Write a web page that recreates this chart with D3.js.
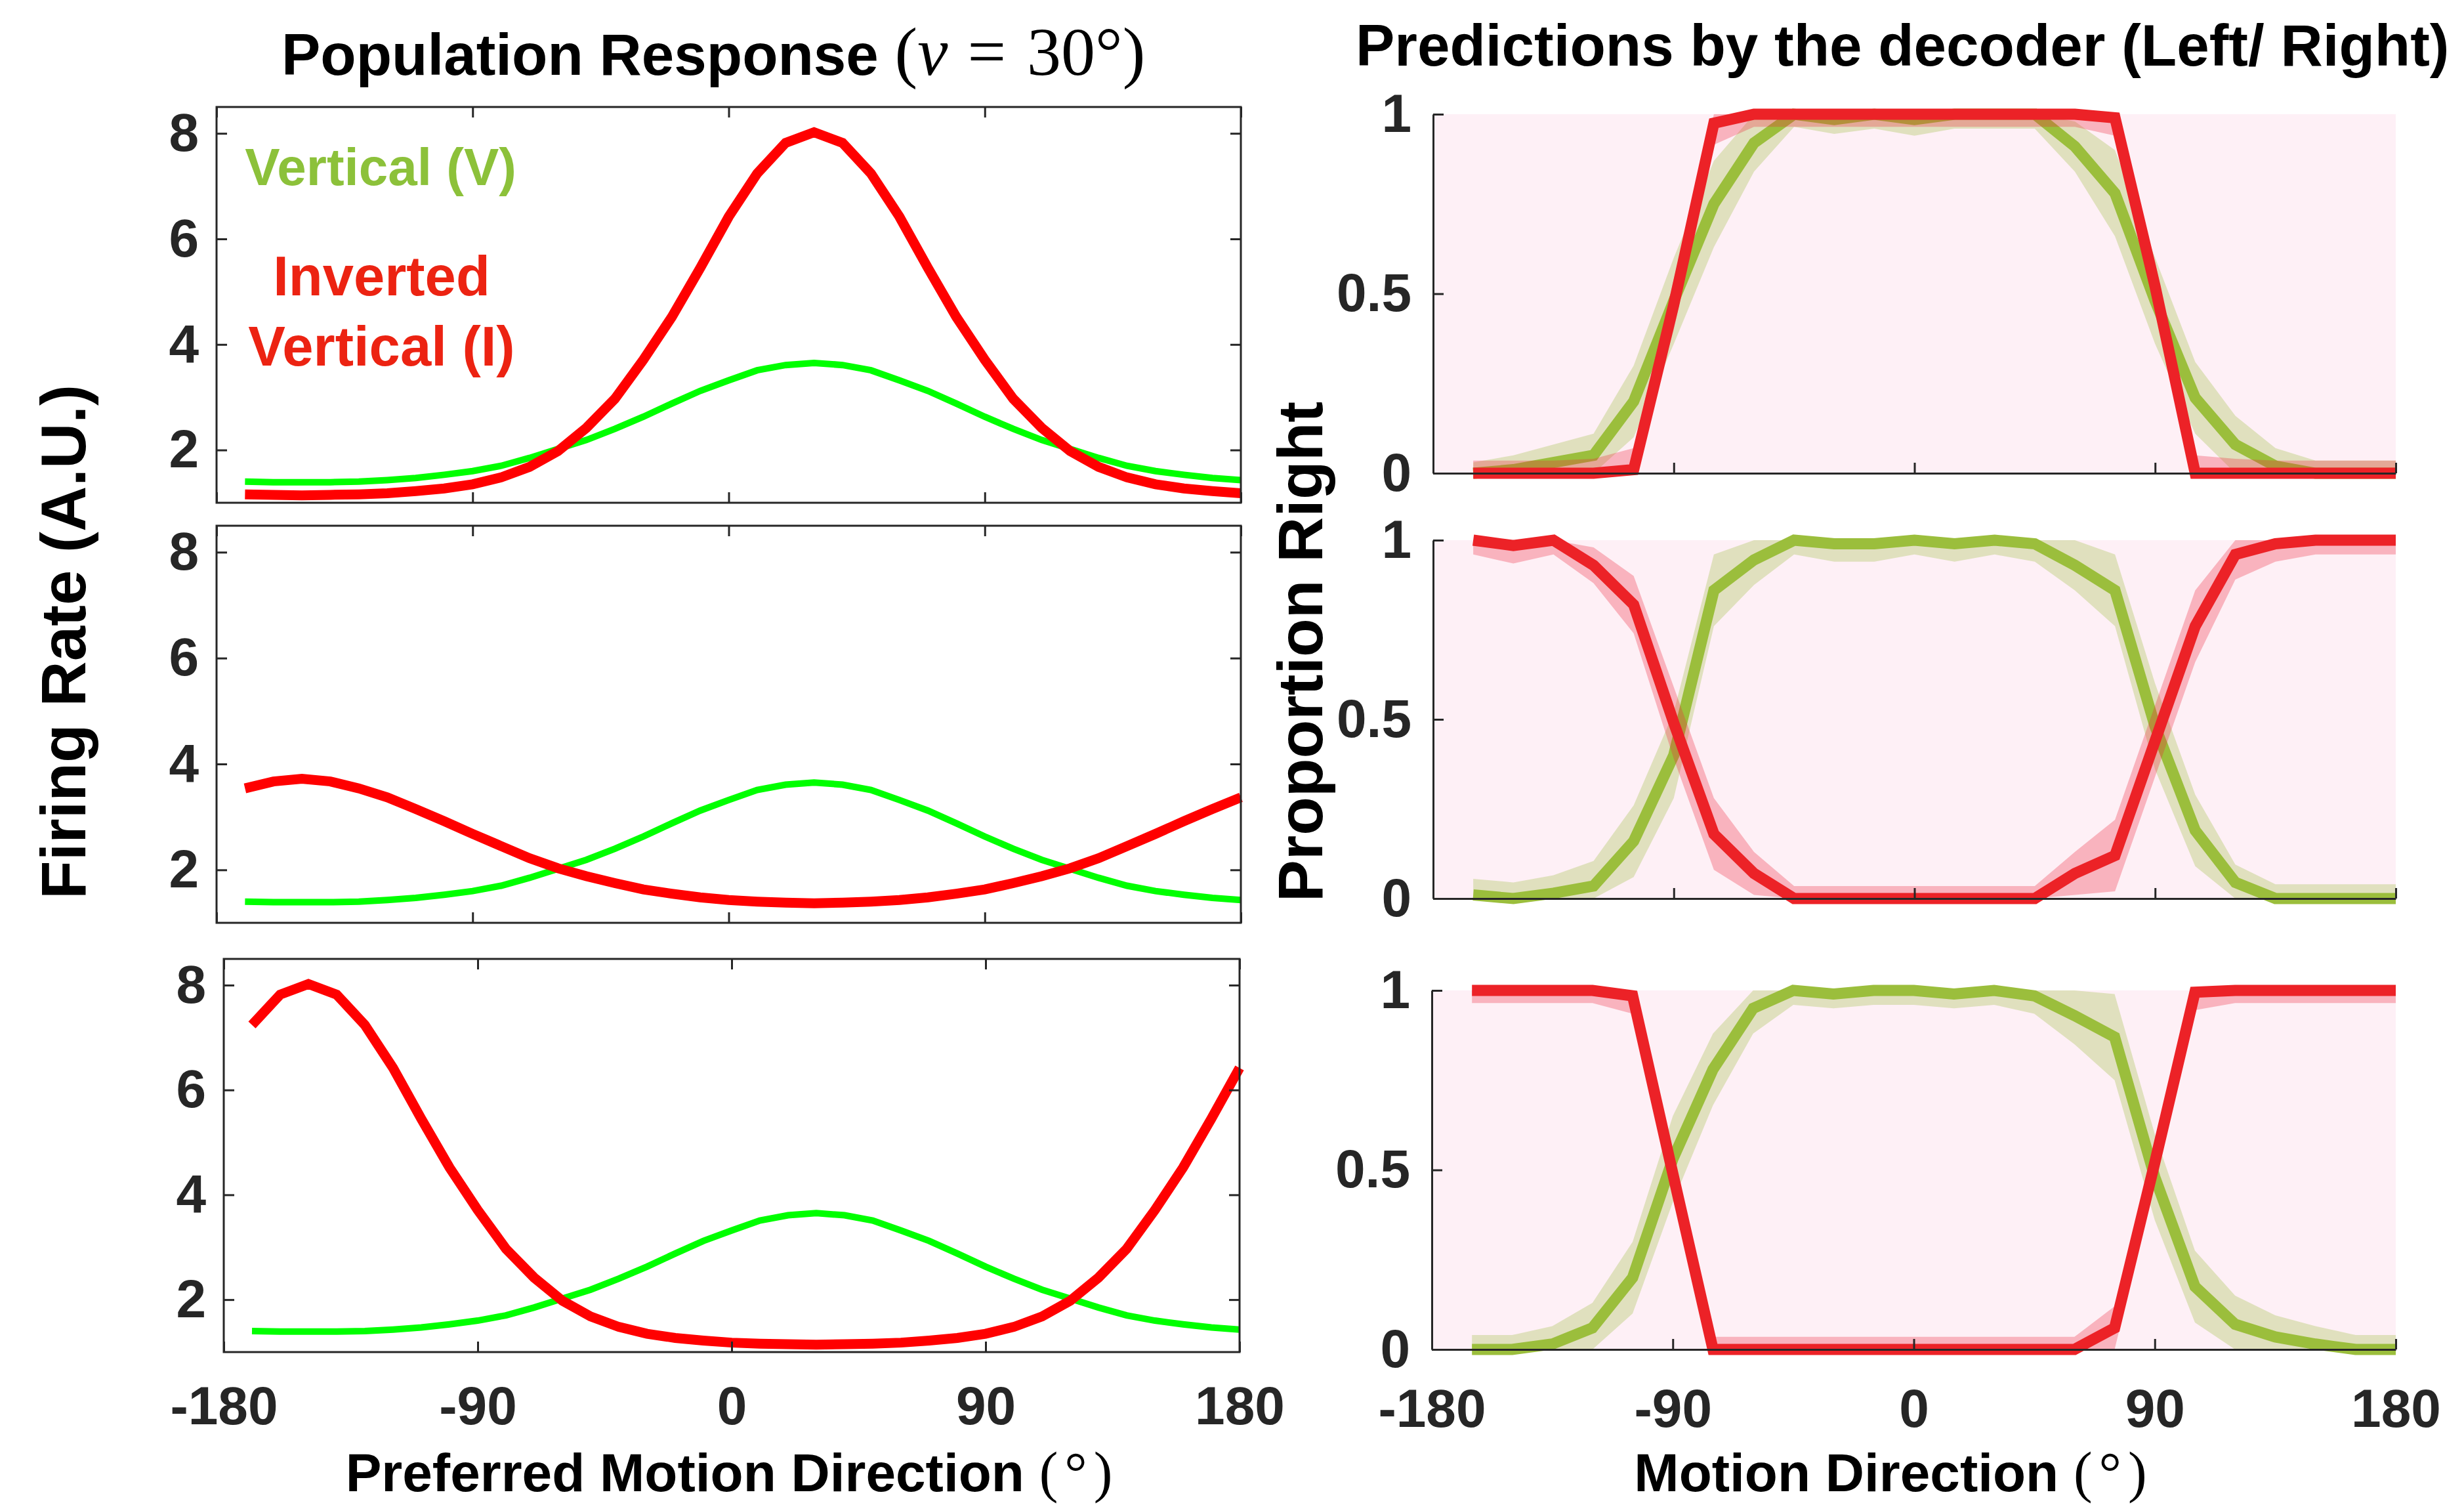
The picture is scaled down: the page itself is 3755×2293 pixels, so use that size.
<!DOCTYPE html>
<html>
<head>
<meta charset="utf-8">
<script src="https://cdn.jsdelivr.net/npm/d3@7"></script>
<style>
body { margin: 0; background: #fff; }
svg { display: block; }
</style>
</head>
<body>
<svg id="fig" width="3755" height="2293"></svg>
<script>
// preferred direction of each model neuron (deg)
var prefDir = [-170,-160,-150,-140,-130,-120,-110,-100,-90,-80,-70,-60,-50,-40,-30,-20,-10,0,10,20,30,40,50,60,70,80,90,100,110,120,130,140,150,160,170,180];

// population response to the vertical stimulus (same in every row)
var vertResp = [1.40,1.39,1.39,1.39,1.40,1.43,1.47,1.53,1.60,1.70,1.85,2.02,2.19,2.40,2.63,2.88,3.12,3.32,3.51,3.61,3.65,3.61,3.51,3.32,3.12,2.88,2.63,2.40,2.19,2.02,1.85,1.70,1.60,1.53,1.47,1.43];

// population response to the inverted vertical stimulus, one per row
var invResp1 = [1.16,1.15,1.14,1.15,1.16,1.18,1.22,1.27,1.35,1.48,1.68,1.98,2.42,2.97,3.71,4.52,5.45,6.42,7.24,7.82,8.02,7.82,7.24,6.42,5.45,4.52,3.71,2.97,2.42,1.98,1.68,1.48,1.35,1.27,1.22,1.18];
var invResp2 = [3.54,3.67,3.72,3.67,3.54,3.37,3.15,2.92,2.68,2.45,2.22,2.03,1.88,1.75,1.63,1.55,1.48,1.43,1.40,1.38,1.37,1.38,1.40,1.43,1.48,1.55,1.63,1.75,1.88,2.03,2.22,2.45,2.68,2.92,3.15,3.37];
var invResp3 = [7.24,7.82,8.02,7.82,7.24,6.42,5.45,4.52,3.71,2.97,2.42,1.98,1.68,1.48,1.35,1.27,1.22,1.18,1.16,1.15,1.14,1.15,1.16,1.18,1.22,1.27,1.35,1.48,1.68,1.98,2.42,2.97,3.71,4.52,5.45,6.42];

// motion directions tested by the decoder (deg)
var motionDir = [-165,-150,-135,-120,-105,-90,-75,-60,-45,-30,-15,0,15,30,45,60,75,90,105,120,135,150,165,180];

// proportion "right", vertical (V) and inverted (I), with band half widths
var propV1 = [0.00,0.01,0.03,0.05,0.20,0.48,0.75,0.92,1.00,0.985,1.00,0.985,1.00,1.00,1.00,0.91,0.78,0.48,0.21,0.08,0.02,0.00,0.00,0.00];
var errV1  = [0.03,0.04,0.05,0.06,0.10,0.12,0.12,0.08,0.035,0.04,0.04,0.045,0.04,0.04,0.04,0.07,0.12,0.12,0.10,0.08,0.05,0.035,0.035,0.035];
var propI1 = [0,0,0,0,0.01,0.47,0.975,1,1,1,1,1,1,1,1,1,0.99,0.52,0,0,0,0,0,0];
var errI1  = [0.035,0.035,0.035,0.04,0.06,0.07,0.06,0.035,0.035,0.035,0.035,0.035,0.035,0.035,0.035,0.035,0.05,0.07,0.05,0.04,0.035,0.035,0.035,0.035];

var propV2 = [0.01,0.00,0.015,0.035,0.16,0.40,0.86,0.945,1.00,0.99,0.99,1.00,0.99,1.00,0.99,0.93,0.86,0.48,0.19,0.045,0.00,0.00,0.00,0.00];
var errV2  = [0.045,0.045,0.05,0.07,0.10,0.12,0.10,0.07,0.04,0.05,0.05,0.04,0.05,0.04,0.05,0.07,0.10,0.12,0.10,0.05,0.04,0.04,0.04,0.04];
var propI2 = [1.00,0.985,1.00,0.93,0.82,0.49,0.18,0.07,0,0,0,0,0,0,0,0.07,0.12,0.44,0.76,0.96,0.99,1.00,1.00,1.00];
var errI2  = [0.04,0.05,0.04,0.05,0.08,0.10,0.10,0.06,0.035,0.035,0.035,0.035,0.035,0.035,0.035,0.06,0.10,0.10,0.10,0.07,0.05,0.04,0.04,0.04];

var propV3 = [0.00,0.00,0.015,0.06,0.20,0.53,0.78,0.95,1.00,0.99,1.00,1.00,0.99,1.00,0.985,0.93,0.87,0.48,0.175,0.07,0.035,0.015,0.00,0.00];
var errV3  = [0.04,0.04,0.05,0.07,0.10,0.12,0.10,0.07,0.04,0.04,0.04,0.04,0.04,0.04,0.05,0.08,0.12,0.12,0.10,0.08,0.06,0.05,0.04,0.04];
var propI3 = [1,1,1,1,0.985,0.49,0,0,0,0,0,0,0,0,0,0,0.06,0.52,0.995,1,1,1,1,1];
var errI3  = [0.035,0.035,0.035,0.035,0.05,0.06,0.035,0.035,0.035,0.035,0.035,0.035,0.035,0.035,0.035,0.035,0.06,0.06,0.05,0.035,0.035,0.035,0.035,0.035];

// ticks
var dirTicks = [-180,-90,0,90,180];
var rateTicks = [2,4,6,8];
var propTicks = [0,0.5,1];

var svg = d3.select('#fig');
var ink = '#262626';
var sans = "'Liberation Sans', Arial, Helvetica, sans-serif";
var serif = "'Liberation Serif', 'Times New Roman', serif";

svg.append('rect').attr('width', 3755).attr('height', 2293).attr('fill', '#fff');

function styleAxis(ax, size) {
  ax.selectAll('.tick line').attr('stroke', ink).attr('stroke-width', 3);
  ax.selectAll('.domain').attr('stroke', ink).attr('stroke-width', 3);
  ax.selectAll('text').attr('fill', ink).attr('font-size', size)
    .attr('font-weight', 'bold').attr('font-family', sans);
  ax.attr('font-family', null).attr('font-size', null);
}

// ---- left column: population response ----
var leftBox = [
  {x0: 330, x1: 1891, y0: 163, y1: 766, inv: invResp1, labels: false},
  {x0: 330, x1: 1891, y0: 801, y1: 1406, inv: invResp2, labels: false},
  {x0: 341, x1: 1889, y0: 1461, y1: 2060, inv: invResp3, labels: true}
];
var xTop, yTop;

leftBox.forEach(function (p, k) {
  var x = d3.scaleLinear().domain([-180, 180]).range([p.x0, p.x1]);
  var y = d3.scaleLinear().domain([1, 8.5]).range([p.y1, p.y0]);
  if (k == 0) { xTop = x; yTop = y; }
  var g = svg.append('g');
  var line = d3.line().x(function (d, i) { return x(prefDir[i]); }).y(function (d) { return y(d); });

  g.append('path').datum(vertResp).attr('d', line)
    .attr('fill', 'none').attr('stroke', '#00ff00').attr('stroke-width', 10);
  g.append('path').datum(p.inv).attr('d', line)
    .attr('fill', 'none').attr('stroke', '#ff0000').attr('stroke-width', 15);

  var axL = g.append('g').attr('transform', 'translate(' + p.x0 + ',0)')
    .call(d3.axisLeft(y).tickValues(rateTicks).tickSize(-16).tickSizeOuter(0).tickPadding(27));
  axL.select('.domain').remove();
  styleAxis(axL, 82);

  var axR = g.append('g').attr('transform', 'translate(' + p.x1 + ',0)')
    .call(d3.axisRight(y).tickValues(rateTicks).tickSize(-16).tickSizeOuter(0).tickFormat(''));
  axR.select('.domain').remove();
  styleAxis(axR, 82);

  var axT = g.append('g').attr('transform', 'translate(0,' + p.y0 + ')')
    .call(d3.axisTop(x).tickValues(dirTicks).tickSize(-16).tickSizeOuter(0).tickFormat(''));
  axT.select('.domain').remove();
  styleAxis(axT, 82);

  var axB = g.append('g').attr('transform', 'translate(0,' + p.y1 + ')')
    .call(d3.axisBottom(x).tickValues(dirTicks).tickSize(-16).tickSizeOuter(0).tickPadding(52)
      .tickFormat(p.labels ? function (d) { return String(d); } : ''));
  axB.select('.domain').remove();
  styleAxis(axB, 82);

  g.append('rect').attr('x', p.x0).attr('y', p.y0)
    .attr('width', p.x1 - p.x0).attr('height', p.y1 - p.y0)
    .attr('fill', 'none').attr('stroke', ink).attr('stroke-width', 3);
});

// legend text in the top panel, placed in data units
svg.append('text').attr('x', xTop(-170)).attr('y', yTop(7.02))
  .attr('font-family', sans).attr('font-weight', 'bold').attr('font-size', 80)
  .attr('fill', '#8cc13a').text('Vertical (V)');
svg.append('text').attr('x', xTop(-122)).attr('y', yTop(4.93)).attr('text-anchor', 'middle')
  .attr('font-family', sans).attr('font-weight', 'bold').attr('font-size', 85)
  .attr('fill', '#ec2312').text('Inverted');
svg.append('text').attr('x', xTop(-122)).attr('y', yTop(3.6)).attr('text-anchor', 'middle')
  .attr('font-family', sans).attr('font-weight', 'bold').attr('font-size', 85)
  .attr('fill', '#ec2312').text('Vertical (I)');

// ---- right column: decoder predictions ----
var rightBox = [
  {x0: 2184, x1: 3651, y0: 174, y1: 721, v: propV1, ev: errV1, r: propI1, er: errI1, labels: false},
  {x0: 2184, x1: 3651, y0: 823, y1: 1369, v: propV2, ev: errV2, r: propI2, er: errI2, labels: false},
  {x0: 2182, x1: 3651, y0: 1509, y1: 2056, v: propV3, ev: errV3, r: propI3, er: errI3, labels: true}
];

rightBox.forEach(function (p) {
  var x = d3.scaleLinear().domain([-180, 180]).range([p.x0, p.x1]);
  var y = d3.scaleLinear().domain([0, 1]).range([p.y1, p.y0]);
  var g = svg.append('g');

  g.append('rect').attr('x', x(-180)).attr('y', y(1))
    .attr('width', x(180) - x(-180)).attr('height', y(0) - y(1)).attr('fill', '#fef0f6');

  function band(vals, errs) {
    return d3.area()
      .x(function (d, i) { return x(motionDir[i]); })
      .y0(function (d, i) { return y(Math.max(0, vals[i] - errs[i])); })
      .y1(function (d, i) { return y(Math.min(1, vals[i] + errs[i])); })(vals);
  }
  var line = d3.line().x(function (d, i) { return x(motionDir[i]); }).y(function (d) { return y(d); });

  g.append('path').attr('d', band(p.v, p.ev)).attr('fill', 'rgb(155,190,60)').attr('fill-opacity', 0.3);
  g.append('path').datum(p.v).attr('d', line).attr('fill', 'none')
    .attr('stroke', '#9bbe3c').attr('stroke-width', 17);
  g.append('path').attr('d', band(p.r, p.er)).attr('fill', 'rgb(240,40,60)').attr('fill-opacity', 0.3);
  g.append('path').datum(p.r).attr('d', line).attr('fill', 'none')
    .attr('stroke', '#ec2227').attr('stroke-width', 17);

  var axL = g.append('g').attr('transform', 'translate(' + p.x0 + ',0)')
    .call(d3.axisLeft(y).tickValues(propTicks).tickSize(-16).tickSizeOuter(0).tickPadding(33)
      .tickFormat(function (d) { return String(d); }));
  styleAxis(axL, 82);

  var axB = g.append('g').attr('transform', 'translate(0,' + p.y1 + ')')
    .call(d3.axisBottom(x).tickValues(dirTicks).tickSize(-16).tickSizeOuter(0).tickPadding(60)
      .tickFormat(p.labels ? function (d) { return String(d); } : ''));
  styleAxis(axB, 82);
});

// ---- titles and axis labels ----
var t1 = svg.append('text').attr('x', 429).attr('y', 114).attr('fill', '#000');
t1.append('tspan').attr('font-family', sans).attr('font-weight', 'bold').attr('font-size', 89)
  .text('Population Response ');
t1.append('tspan').attr('font-family', serif).attr('font-size', 104).text('(');
t1.append('tspan').attr('font-family', serif).attr('font-size', 104).attr('font-style', 'italic').text('v');
t1.append('tspan').attr('font-family', serif).attr('font-size', 104).attr('dx', 30).text('=');
t1.append('tspan').attr('font-family', serif).attr('font-size', 104).attr('dx', 32).text('30°)');

svg.append('text').attr('x', 2066).attr('y', 100).attr('fill', '#000')
  .attr('font-family', sans).attr('font-weight', 'bold').attr('font-size', 89)
  .text('Predictions by the decoder (Left/ Right)');

svg.append('text').attr('transform', 'translate(130,978) rotate(-90)').attr('text-anchor', 'middle')
  .attr('font-family', sans).attr('font-weight', 'bold').attr('font-size', 96).attr('fill', '#000')
  .text('Firing Rate (A.U.)');
svg.append('text').attr('transform', 'translate(2015,993) rotate(-90)').attr('text-anchor', 'middle')
  .attr('font-family', sans).attr('font-weight', 'bold').attr('font-size', 96).attr('fill', '#000')
  .text('Proportion Right');

function xLabel(cx, words) {
  var t = svg.append('text').attr('x', cx).attr('y', 2272).attr('text-anchor', 'middle').attr('fill', '#000');
  t.append('tspan').attr('font-family', sans).attr('font-weight', 'bold').attr('font-size', 82).text(words + ' ');
  t.append('tspan').attr('font-family', serif).attr('font-size', 86).text('(');
  t.append('tspan').attr('font-family', serif).attr('font-size', 86).attr('dx', 10).text('°');
  t.append('tspan').attr('font-family', serif).attr('font-size', 86).attr('dx', 10).text(')');
}
xLabel(1111, 'Preferred Motion Direction');
xLabel(2881, 'Motion Direction');
</script>
</body>
</html>
